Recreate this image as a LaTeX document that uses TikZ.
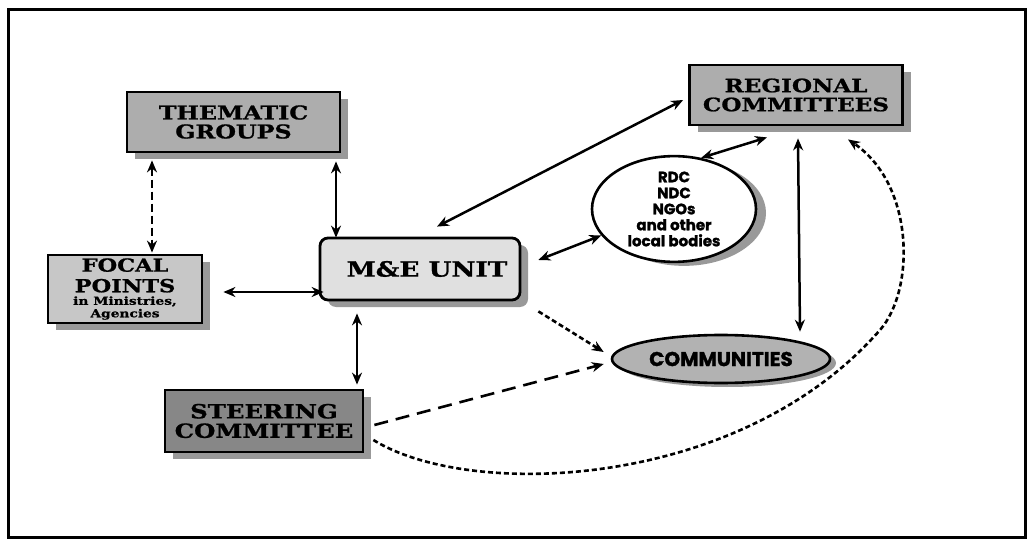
\documentclass[tikz,border=0pt]{standalone}
\usepackage{fontspec}
\usetikzlibrary{arrows.meta,shadows,shapes.geometric}
\newfontfamily\slab{DejaVu Serif}[FakeStretch=1.25,BoldFeatures={FakeBold=1}]
\newfontfamily\rnd{Poppins}[BoldFeatures={FakeBold=1.5}]
\begin{document}
\begin{tikzpicture}[x=1pt,y=-1pt,
  sh/.style={drop shadow={shadow xshift=8pt,shadow yshift=-7pt,fill=black!40,opacity=1}},
  box/.style={draw,line width=2.8pt,inner sep=0pt,sh,align=center},
  dbl/.style={line width=2.5pt,{Stealth[length=12pt,width=10pt]}-{Stealth[length=12pt,width=10pt]}},
  one/.style={line width=2.6pt,-{Stealth[length=12pt,width=10pt]}},
]
\useasboundingbox (0,0) rectangle (1033,545);
\draw[line width=3pt] (8,10) rectangle (1025,537);

\node[box,fill=black!32,minimum width=213pt,minimum height=60pt,
  font={\slab\bfseries\fontsize{19}{19}\selectfont}] (thematic) at (233.5,122) {THEMATIC\\GROUPS};
\node[box,fill=black!22,minimum width=154pt,minimum height=68pt,
  font={\slab\bfseries\fontsize{11}{12.5}\selectfont}] (focal) at (125,289)
  {{\fontsize{18}{15}\selectfont FOCAL}\\[6pt]{\fontsize{18}{15}\selectfont POINTS}\\in Ministries,\\Agencies};
\node[box,fill=black!12,rounded corners=8pt,minimum width=200pt,minimum height=62pt,
  font={\slab\bfseries\fontsize{21}{20}\selectfont}] (me) at (420,269) {\hspace*{14pt}M\&E UNIT};
\node[box,fill=black!32,minimum width=213pt,minimum height=60pt,
  font={\slab\bfseries\fontsize{18.5}{19}\selectfont}] (regional) at (796,95) {REGIONAL\\COMMITTEES};
\node[box,fill=black!47,minimum width=198pt,minimum height=62pt,
  font={\slab\bfseries\fontsize{19.5}{19.5}\selectfont}] (steering) at (264,421) {STEERING\\COMMITTEE};
\node[ellipse,draw,line width=2.6pt,fill=white,inner sep=0pt,minimum width=164pt,minimum height=102pt,
  drop shadow={shadow xshift=10pt,shadow yshift=-4pt,fill=black!40,opacity=1},align=center,
  font={\rnd\bfseries\fontsize{15}{16}\selectfont}] (rdc) at (674,209)
  {RDC\\NDC\\NGOs\\and other\\local bodies};
\node[ellipse,draw,line width=2.6pt,fill=black!30,inner sep=0pt,minimum width=218pt,minimum height=48pt,
  drop shadow={shadow xshift=6pt,shadow yshift=-4pt,fill=black!40,opacity=1},
  font={\rnd\bfseries\fontsize{20}{20}\selectfont}] (comm) at (721,359) {COMMUNITIES};

% connectors
\draw[dbl,dash pattern=on 8pt off 4pt] ([shift={(-81.5,7)}]thematic.south) -- ([shift={(27,-1)}]focal.north);
\draw[dbl] ([shift={(102.5,8)}]thematic.south) -- ([shift={(-84,1)}]me.north);
\draw[dbl] ([shift={(20,3)}]focal.east) -- ([shift={(5,23)}]me.west);
\draw[dbl] ([shift={(-63,12)}]me.south) -- ([shift={(93,-4)}]steering.north);
\draw[dbl] ([shift={(17,-10)}]me.north) -- ([shift={(-5,5)}]regional.west);
\draw[dbl] ([shift={(17,-9)}]me.east) -- (rdc.200);
\draw[dbl] (rdc.62) -- ([shift={(-29,11)}]regional.south);
\draw[dbl] ([shift={(2,12)}]regional.south) -- ([shift={(79,-2)}]comm.north);
\draw[one,dash pattern=on 5pt off 3pt] ([shift={(17,10)}]me.south east) -- ([shift={(-7,-7)}]comm.west);
\draw[one,dash pattern=on 14pt off 8pt] ([shift={(10,4)}]steering.east) -- ([shift={(-7,5)}]comm.west);
\draw[one,dash pattern=on 5pt off 3pt] ([shift={(9,19)}]steering.east)
  .. controls (470,500) and (740,490) .. (880,330)
  .. controls (915,290) and (915,185) .. ([shift={(52,13)}]regional.south);
\end{tikzpicture}
\end{document}
